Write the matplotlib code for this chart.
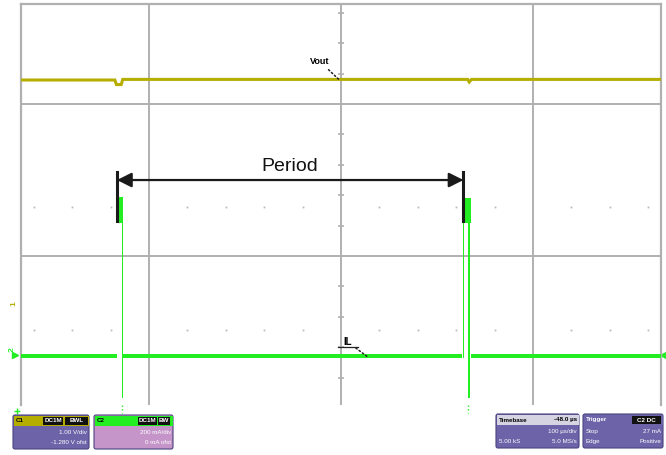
import matplotlib
matplotlib.use('Agg')
import matplotlib.pyplot as plt
from matplotlib.patches import FancyBboxPatch, Rectangle

plt.rcParams['font.family'] = ['Liberation Sans', 'DejaVu Sans']

# scope screen in divisions (x: 0 = centre line, y: 0 = lower grid line)
t_lim = (-1.667, 1.667)
v_lim = (-0.98, 1.658)

# C1: Vout
vout_t = [-1.667, -1.178, -1.170, -1.145, -1.137, 0.660, 0.668, 0.680, 1.667]
vout_v = [1.158, 1.158, 1.128, 1.128, 1.162, 1.162, 1.145, 1.162, 1.162]

# C2: IL, min/max envelope per step
il_t = [-1.667, -1.167, -1.143, -1.135, 0.630, 0.633, 0.641, 0.664, 0.672, 0.677, 1.667]
il_lo = [-0.672, 0.217, -0.934, -0.672, 0.217, -0.672, 0.217, -0.934, 0.217, -0.672, -0.672]
il_hi = [-0.642, 0.388, 0.388, -0.642, 0.382, 0.382, 0.382, 0.382, 0.382, -0.642, -0.642]

# switching events used for the period marker
period_t = [-1.167, 0.638]
period_v = 0.5

c_vout = '#b5ad00'
c_il = '#22ee22'
c_grid = '#b0b0b0'

fig = plt.figure(figsize=(6.66, 4.55), dpi=100)
W, H = 666, 455
ax = fig.add_axes([21 / W, 1 - 405 / H, 640 / W, 401 / H])
ax.set_xlim(*t_lim)
ax.set_ylim(*v_lim)

for s in ['left', 'right', 'top']:
    ax.spines[s].set_color(c_grid)
    ax.spines[s].set_linewidth(1.6)
ax.spines['bottom'].set_visible(False)
ax.set_xticks([])
ax.set_yticks([])

# graticule
for t in [-1, 0, 1]:
    ax.axvline(t, color=c_grid, lw=1.4, zorder=1)
for v in [0, 1]:
    ax.axhline(v, color=c_grid, lw=1.4, zorder=1)

minor_v = [k * 0.2 for k in range(-4, 9) if k % 5 != 0]
ax.plot([0] * len(minor_v), minor_v, ls='none', marker='_', ms=5, mew=1.2,
        color=c_grid, zorder=1)

dot_t = [k * 0.2 for k in range(-8, 9) if k % 5 != 0]
for v in [0.322, -0.487]:
    ax.plot(dot_t, [v] * len(dot_t), ls='none', marker='s', ms=1.3,
            color='#bbbbbb', mew=0, zorder=1)

# traces
ax.plot(vout_t, vout_v, color=c_vout, lw=2.2, solid_joinstyle='miter', zorder=3)
ax.fill_between(il_t, il_lo, il_hi, step='post', color=c_il, lw=0, zorder=3)

# off-screen indicators under the spikes
for t in [il_t[2], il_t[7]]:
    ax.plot([t, t], [v_lim[0], v_lim[0] - 0.05], color=c_il, lw=1, ls=':',
            clip_on=False)

# channel markers
ax.plot(t_lim[1] + 0.01, il_lo[-1] + 0.02, marker='<', ms=4, color=c_il, clip_on=False)
ax.plot(t_lim[0] - 0.03, il_lo[0] + 0.02, marker='>', ms=4, color=c_il, clip_on=False)
ax.text(t_lim[0] - 0.045, -0.63, '2', color=c_il, fontsize=6, rotation=90,
        ha='center', va='bottom', fontweight='bold')
ax.text(t_lim[0] - 0.035, -0.31, '1', color=c_vout, fontsize=6, rotation=90,
        ha='center', va='center', fontweight='bold')
ax.plot(t_lim[0] - 0.02, v_lim[0] - 0.04, marker='+', ms=5, color=c_il, clip_on=False)

# period arrow
for t in period_t:
    ax.plot([t, t], [0.23, 0.553], color='#1a1a1a', lw=2.2, zorder=4)
ax.annotate('', xy=(period_t[0], period_v), xytext=(period_t[1], period_v),
            arrowprops=dict(arrowstyle='<|-|>', color='#1a1a1a', lw=1.6,
                            mutation_scale=22, shrinkA=0, shrinkB=0), zorder=4)
ax.text(sum(period_t) / 2, 0.56, 'Period', fontsize=14, ha='center',
        va='baseline', color='#111111')

# trace labels with dotted leaders
ax.annotate('Vout', xy=(-0.01, 1.16), xytext=(-0.11, 1.28), fontsize=6.5,
            fontweight='bold', ha='center', va='center',
            arrowprops=dict(arrowstyle='-', ls=':', lw=1.1, color='#222222',
                            shrinkA=1, shrinkB=0))
ax.annotate('IL', xy=(0.135, -0.66), xytext=(0.035, -0.565), fontsize=7,
            fontweight='bold', ha='center', va='center',
            arrowprops=dict(arrowstyle='-', ls=':', lw=1.1, color='#222222',
                            shrinkA=1, shrinkB=0))
ax.plot([-0.015, 0.09], [-0.6, -0.6], color='#222222', lw=0.9)

# info boxes along the bottom, in pixel units
ov = fig.add_axes([0, 0, 1, 1], zorder=5)
ov.set_xlim(0, W)
ov.set_ylim(H, 0)
ov.axis('off')
ov.patch.set_alpha(0)

body_blue = '#6c63a8'
body_pink = '#c595c9'
fs = 4.5


def info_box(x, y, w, h, head, body, head_left, head_txt_color, chips, rows):
    ov.add_patch(FancyBboxPatch((x, y), w, h, boxstyle='round,pad=0,rounding_size=2',
                                fc=body, ec='#4a4380', lw=0.8))
    ov.add_patch(Rectangle((x + 0.5, y + 0.5), w - 1, 10.5, fc=head, ec='none'))
    ov.text(x + 3, y + 6, head_left, fontsize=fs, color=head_txt_color,
            va='center', ha='left', fontweight='bold')
    for cx, cw, txt in chips:
        ov.add_patch(Rectangle((cx, y + 2), cw, 8, fc='#111111', ec='none'))
        ov.text(cx + cw / 2, y + 6, txt, fontsize=fs, color='white',
                ha='center', va='center', fontweight='bold')
    for i, (left, right) in enumerate(rows):
        yy = y + 17.5 + i * 10
        ov.text(x + 3, yy, left, fontsize=fs, color='white', va='center', ha='left')
        ov.text(x + w - 2, yy, right, fontsize=fs, color='white', va='center', ha='right')


info_box(13, 415, 76, 34, c_vout, body_blue, 'C1', 'black',
         [(43, 20, 'DC1M'), (65, 23, 'BWL')],
         [('', '1.00 V/div'), ('', '-1.280 V ofst')])
info_box(94, 415, 79, 34, c_il, body_pink, 'C2', 'black',
         [(138, 19, 'DC1M'), (158, 12, 'BW')],
         [('', '200 mA/div'), ('', '0 mA ofst')])
info_box(496, 414, 83, 34, '#d6d4e2', body_blue, 'Timebase', 'black',
         [], [('', '100 \u00b5s/div'), ('5.00 kS', '5.0 MS/s')])
ov.text(577, 420, '-48.0 \u00b5s', fontsize=fs, color='black', ha='right',
        va='center', fontweight='bold')
info_box(583, 414, 80, 34, body_blue, body_blue, 'Trigger', 'white',
         [(632, 29, 'C2 DC')], [('Stop', '27 mA'), ('Edge', 'Positive')])

fig.savefig('out.png', dpi=100)
